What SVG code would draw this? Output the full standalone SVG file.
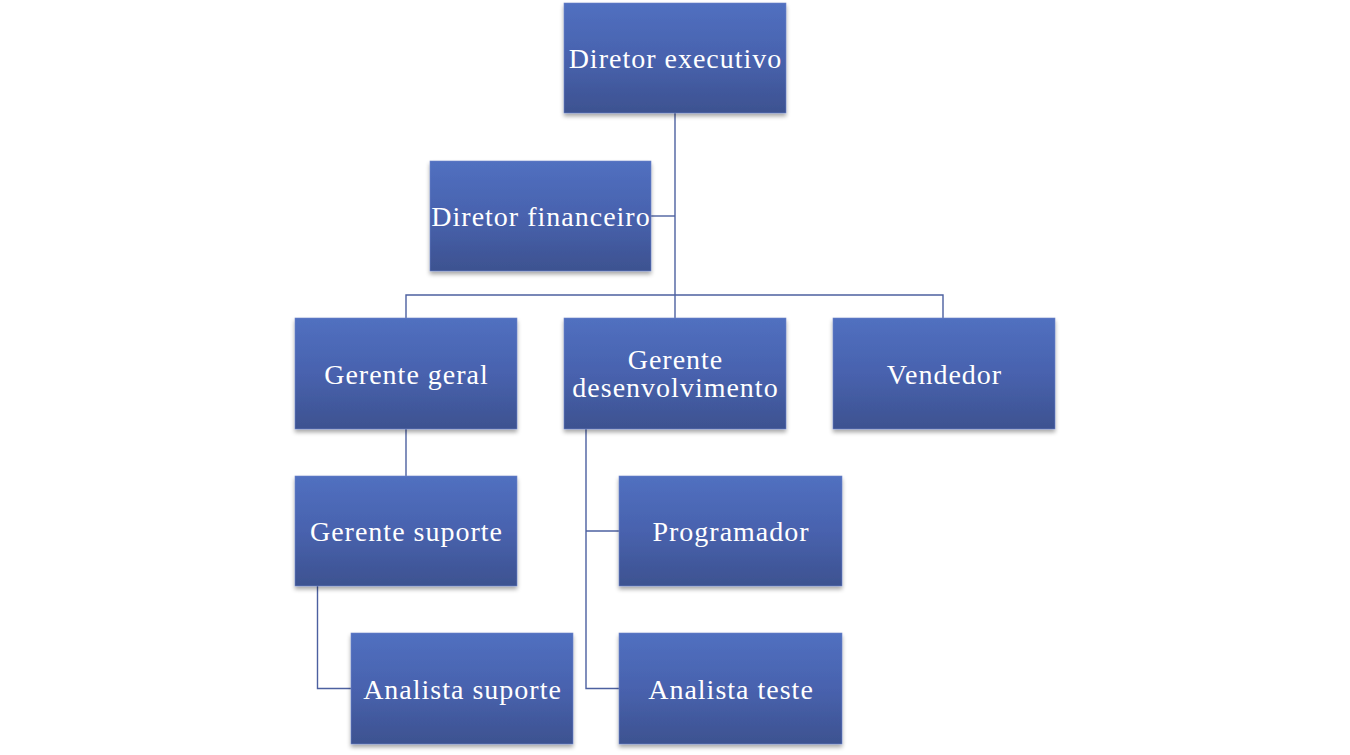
<svg xmlns="http://www.w3.org/2000/svg" width="1350" height="755" viewBox="0 0 1350 755">
<defs>
<linearGradient id="g" x1="0" y1="0" x2="0" y2="1">
<stop offset="0" stop-color="#5170C0"/>
<stop offset="0.5" stop-color="#4862AE"/>
<stop offset="1" stop-color="#3D5290"/>
</linearGradient>
<filter id="sh" x="-10%" y="-10%" width="120%" height="130%">
<feGaussianBlur in="SourceAlpha" stdDeviation="2"/>
<feOffset dx="0" dy="2.5"/>
<feComponentTransfer><feFuncA type="linear" slope="0.35"/></feComponentTransfer>
<feMerge><feMergeNode/><feMergeNode in="SourceGraphic"/></feMerge>
</filter>
</defs>
<style>
.box{fill:url(#g);stroke:#6D84C8;stroke-width:0.6;filter:url(#sh)}
.t{font-family:"Liberation Serif","DejaVu Serif",serif;font-size:28px;letter-spacing:1px;fill:#FFFFFF;text-anchor:middle}
.c{fill:none;stroke:#4C60A0;stroke-width:1.4}
</style>
<rect width="1350" height="755" fill="#FFFFFF"/>
<g id="connectors">
<path class="c" d="M675 113V318"/>
<path class="c" d="M651 216H675"/>
<path class="c" d="M406 318V295H943V318"/>
<path class="c" d="M406 429V476"/>
<path class="c" d="M317.5 586V688.5H351"/>
<path class="c" d="M586 429V688.5H619"/>
<path class="c" d="M586 531H619"/>
</g>
<g id="n-diretor-executivo"><rect class="box" x="564" y="3" width="222" height="110"/><text class="t" x="675.5" y="68">Diretor executivo</text></g>
<g id="n-diretor-financeiro"><rect class="box" x="430" y="161" width="221" height="110"/><text class="t" x="541" y="226">Diretor financeiro</text></g>
<g id="n-gerente-geral"><rect class="box" x="295" y="318" width="222" height="111"/><text class="t" x="406.5" y="384">Gerente geral</text></g>
<g id="n-gerente-desenvolvimento"><rect class="box" x="564" y="318" width="222" height="111"/><text class="t" x="675.5" y="369">Gerente</text><text class="t" x="675.5" y="397">desenvolvimento</text></g>
<g id="n-vendedor"><rect class="box" x="833" y="318" width="222" height="111"/><text class="t" x="944.5" y="384">Vendedor</text></g>
<g id="n-gerente-suporte"><rect class="box" x="295" y="476" width="222" height="110"/><text class="t" x="406.5" y="541">Gerente suporte</text></g>
<g id="n-programador"><rect class="box" x="619" y="476" width="223" height="110"/><text class="t" x="731" y="541">Programador</text></g>
<g id="n-analista-suporte"><rect class="box" x="351" y="633" width="222" height="111"/><text class="t" x="462.5" y="699">Analista suporte</text></g>
<g id="n-analista-teste"><rect class="box" x="619" y="633" width="223" height="111"/><text class="t" x="731" y="699">Analista teste</text></g>
</svg>
